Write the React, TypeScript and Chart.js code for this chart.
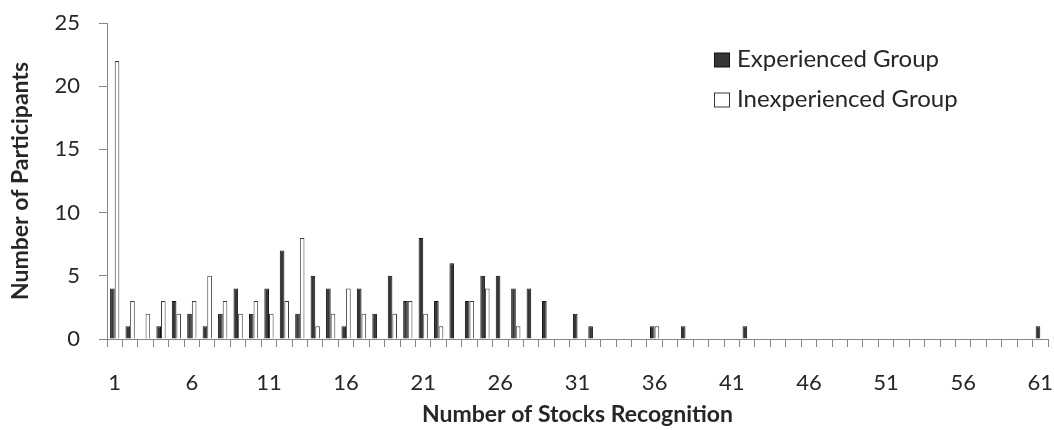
import React, { useEffect, useRef } from "react";
import { Chart, registerables } from "chart.js";

Chart.register(...registerables);

const categories: string[] = Array.from({ length: 61 }, (_, i) => String(i + 1));

const experienced: number[] = [
  4, 1, 0, 1, 3, 2, 1, 2, 4, 2,
  4, 7, 2, 5, 4, 1, 4, 2, 5, 3,
  8, 3, 6, 3, 5, 5, 4, 4, 3, 0,
  2, 1, 0, 0, 0, 1, 0, 1, 0, 0,
  0, 1, 0, 0, 0, 0, 0, 0, 0, 0,
  0, 0, 0, 0, 0, 0, 0, 0, 0, 0,
  1,
];

const inexperienced: number[] = [
  22, 3, 2, 3, 2, 3, 5, 3, 2, 3,
  2, 3, 8, 1, 2, 4, 2, 0, 2, 3,
  2, 1, 0, 3, 4, 0, 1, 0, 0, 0,
  0, 0, 0, 0, 0, 1, 0, 0, 0, 0,
  0, 0, 0, 0, 0, 0, 0, 0, 0, 0,
  0, 0, 0, 0, 0, 0, 0, 0, 0, 0,
  0,
];

const seriesNames: string[] = ["Experienced Group", "Inexperienced Group"];
const yTicks: number[] = [0, 5, 10, 15, 20, 25];

const FONT = "Lato, 'Open Sans', sans-serif";
const TEXT = "#262626";
const AXIS = "#868686";

const legendPlugin = {
  id: "customLegend",
  afterDraw(chart: any) {
    const ctx = chart.ctx;
    ctx.save();
    const x0 = 714;
    const baselines = [66.5, 106.5];
    chart.data.datasets.forEach((ds: any, i: number) => {
      const by = baselines[i];
      ctx.fillStyle = ds.backgroundColor;
      ctx.strokeStyle = ds.borderColor;
      ctx.lineWidth = 1;
      ctx.fillRect(x0 + 0.5, by - 13.5, 15, 14);
      ctx.strokeRect(x0 + 0.5, by - 13.5, 15, 14);
      ctx.fillStyle = TEXT;
      ctx.font = `24px ${FONT}`;
      ctx.textBaseline = "alphabetic";
      ctx.textAlign = "left";
      ctx.fillText(ds.label, x0 + 23, by);
    });
    ctx.restore();
  },
};

export default function App() {
  const canvasRef = useRef<HTMLCanvasElement | null>(null);

  useEffect(() => {
    if (!canvasRef.current) return;
    const chart = new Chart(canvasRef.current, {
      type: "bar",
      data: {
        labels: categories,
        datasets: [
          {
            label: seriesNames[0],
            data: experienced,
            backgroundColor: "#363636",
            borderColor: "#111111",
            borderWidth: 1,
            categoryPercentage: 0.6,
            barPercentage: 1.0,
          },
          {
            label: seriesNames[1],
            data: inexperienced,
            backgroundColor: "#ffffff",
            borderColor: "#3a3a3a",
            borderWidth: 1,
            categoryPercentage: 0.6,
            barPercentage: 1.0,
          },
        ],
      },
      options: {
        animation: false,
        responsive: true,
        maintainAspectRatio: false,
        layout: { padding: { top: 23, right: 6, left: 0, bottom: 0 } },
        plugins: {
          legend: { display: false },
          tooltip: { enabled: false },
        },
        scales: {
          x: {
            type: "category",
            grid: {
              offset: true,
              drawOnChartArea: false,
              drawTicks: true,
              tickLength: 8,
              color: AXIS,
            },
            border: { color: AXIS, width: 1 },
            ticks: {
              autoSkip: false,
              maxRotation: 0,
              padding: 23,
              color: TEXT,
              font: { family: FONT, size: 22 },
              callback: (_v: any, idx: number) => (idx % 5 === 0 ? categories[idx] : ""),
            },
            title: {
              display: true,
              text: "Number of Stocks Recognition",
              color: TEXT,
              font: { family: FONT, size: 23, weight: "bold" },
              padding: { top: 0, bottom: 2 },
            },
            afterFit: (scale: any) => {
              scale.height = 91;
              scale.paddingLeft = 0;
              scale.paddingRight = 0;
            },
          },
          y: {
            min: 0,
            max: 25,
            afterBuildTicks: (scale: any) => {
              scale.ticks = yTicks.map((v) => ({ value: v }));
            },
            grid: {
              drawOnChartArea: false,
              drawTicks: true,
              tickLength: 8,
              color: AXIS,
            },
            border: { color: AXIS, width: 1 },
            ticks: {
              padding: 19,
              color: TEXT,
              font: { family: FONT, size: 22 },
            },
            title: {
              display: true,
              text: "Number of Participants",
              color: TEXT,
              font: { family: FONT, size: 23, weight: "bold" },
              padding: { top: 7, bottom: 0 },
            },
            afterFit: (scale: any) => {
              scale.width = 107;
              scale.paddingTop = 0;
              scale.paddingBottom = 0;
            },
          },
        },
      },
      plugins: [legendPlugin],
    });
    return () => chart.destroy();
  }, []);

  return (
    <div style={{ position: "absolute", left: 0, top: 0, width: 1054, height: 430, background: "#fff" }}>
      <canvas ref={canvasRef} />
    </div>
  );
}
